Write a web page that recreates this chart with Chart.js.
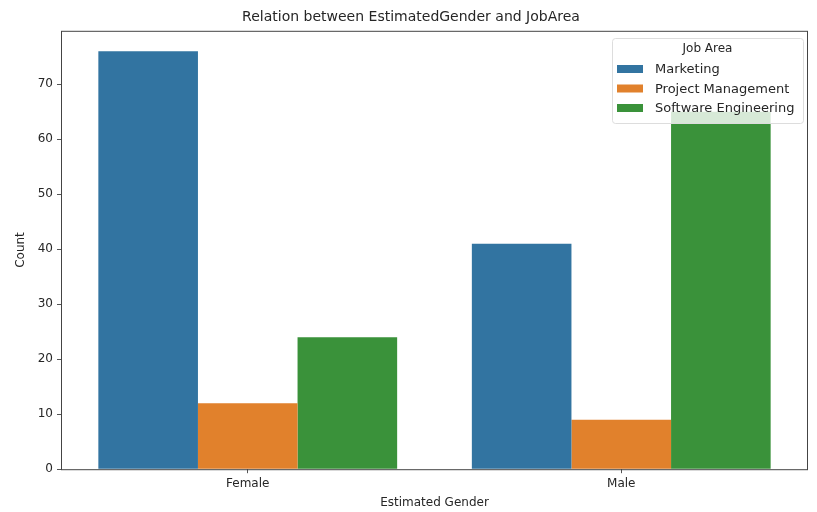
<!DOCTYPE html>
<html>
<head>
<meta charset="utf-8">
<script src="https://cdn.jsdelivr.net/npm/chart.js@4"></script>
<style>
  html, body { margin: 0; padding: 0; background: #fff; }
  #wrap { width: 817px; height: 512px; }
</style>
</head>
<body>
<div id="wrap"><canvas id="barChart" width="817" height="512"></canvas></div>
<script>
// Data
const genders = ['Female', 'Male'];
const jobAreas = ['Marketing', 'Project Management', 'Software Engineering'];
const marketing = [76, 41];
const projectManagement = [12, 9];
const softwareEngineering = [24, 65];
const yTicks = [0, 10, 20, 30, 40, 50, 60, 70];

const colors = ['#3274a1', '#e1812c', '#3a923a'];
const FONT = '"DejaVu Sans", sans-serif';

// box around plot + legend drawn inside the axes (top right)
const boxAndLegend = {
    id: 'boxAndLegend',
    afterDatasetsDraw(chart) {
        const ctx = chart.ctx;
        const a = chart.chartArea;
        ctx.save();
        ctx.strokeStyle = '#444';
        ctx.lineWidth = 1;
        ctx.strokeRect(a.left + 0.5, a.top + 0.5, a.right - a.left - 1, a.bottom - a.top);

        // legend
        const x0 = 612, y0 = 38, w = 191, h = 85;
        ctx.fillStyle = 'rgba(255,255,255,0.8)';
        ctx.strokeStyle = '#dddddd';
        ctx.beginPath();
        ctx.roundRect(x0 + 0.5, y0 + 0.5, w, h, 3);
        ctx.fill();
        ctx.stroke();

        ctx.fillStyle = '#262626';
        ctx.font = '12px ' + FONT;
        ctx.textAlign = 'center';
        ctx.textBaseline = 'middle';
        ctx.fillText('Job Area', x0 + w / 2, y0 + 11);

        ctx.textAlign = 'left';
        jobAreas.forEach((name, i) => {
            const y = y0 + 31 + i * 19.5;
            ctx.fillStyle = colors[i];
            ctx.fillRect(x0 + 5, y - 4, 26, 8);
            ctx.fillStyle = '#262626';
            ctx.font = '13px ' + FONT;
            ctx.fillText(name, x0 + 43, y + 1);
        });
        ctx.restore();
    }
};

new Chart(document.getElementById('barChart').getContext('2d'), {
    type: 'bar',
    data: {
        labels: genders,
        datasets: [
            { label: jobAreas[0], data: marketing, backgroundColor: colors[0] },
            { label: jobAreas[1], data: projectManagement, backgroundColor: colors[1] },
            { label: jobAreas[2], data: softwareEngineering, backgroundColor: colors[2] }
        ]
    },
    options: {
        responsive: false,
        animation: false,
        layout: { padding: { top: 0, right: 9, bottom: 0, left: 14 } },
        datasets: { bar: { categoryPercentage: 0.8, barPercentage: 1.0, borderWidth: 0 } },
        scales: {
            x: {
                offset: true,
                grid: { display: true, offset: false, drawOnChartArea: false, tickLength: 4, color: '#555' },
                border: { display: false },
                ticks: { color: '#262626', font: { family: FONT, size: 12 }, padding: 3 },
                title: { display: true, text: 'Estimated Gender', color: '#262626',
                         font: { family: FONT, size: 12 }, padding: { top: 2, bottom: 2 } }
            },
            y: {
                min: 0,
                max: 79.7,
                afterFit(scale) { scale.width = 47; },
                afterBuildTicks(scale) { scale.ticks = yTicks.map(v => ({ value: v })); },
                grid: { display: true, drawOnChartArea: false, tickLength: 4, color: '#555' },
                border: { display: false },
                ticks: { color: '#262626', font: { family: FONT, size: 12 }, padding: 4 },
                title: { display: true, text: 'Count', color: '#262626',
                         font: { family: FONT, size: 12 }, padding: { top: 0, bottom: 6 } }
            }
        },
        plugins: {
            legend: { display: false },
            tooltip: { enabled: false },
            title: {
                display: true,
                text: 'Relation between EstimatedGender and JobArea',
                color: '#262626',
                font: { family: FONT, size: 14, weight: 'normal' },
                padding: { top: 9, bottom: 5 }
            }
        }
    },
    plugins: [boxAndLegend]
});
</script>
</body>
</html>
